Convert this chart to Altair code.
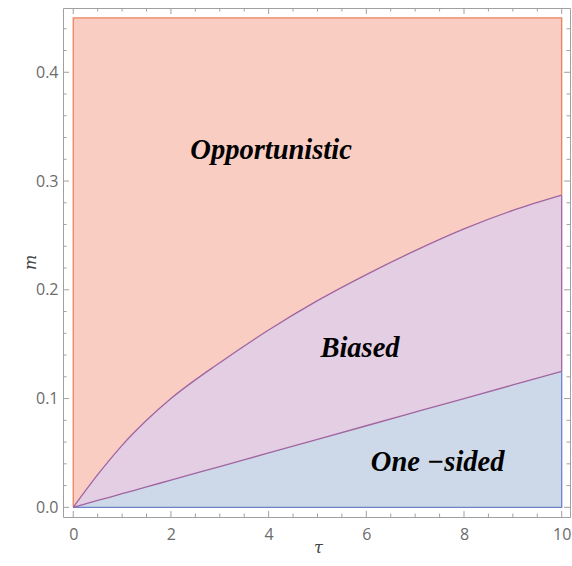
import altair as alt
import pandas as pd

# Region boundaries in the (tau, m) plane
tau = [0, 0.5, 1, 1.5, 2, 3, 4, 5, 6, 7, 8, 9, 10]
m_upper = [0, 0.030, 0.057, 0.080, 0.100, 0.133, 0.163, 0.190, 0.214, 0.236, 0.256, 0.273, 0.287]
m_lower = [0, 0.0063, 0.0125, 0.0188, 0.025, 0.0375, 0.05, 0.0625, 0.075, 0.0875, 0.1, 0.1125, 0.125]
m_top = 0.45

x_major = [0, 2, 4, 6, 8, 10]
y_major = [0.0, 0.1, 0.2, 0.3, 0.4]
x_minor = [v / 2 for v in range(0, 21) if v % 4 != 0]
y_minor = [v / 100 for v in range(0, 46, 2) if v % 10 != 0]

region_names = ["Opportunistic", "Biased", "One −sided"]
label_tau = [4.05, 5.87, 7.46]
label_m = [0.320, 0.1385, 0.0337]

W, H = 507, 509
XDOM = [-0.21, 10.17]
YDOM = [-0.0089, 0.4591]

C_OPP_FILL, C_OPP_EDGE = "#f9cdc2", "#e8835f"
C_BIA_FILL, C_BIA_EDGE = "#e4cee4", "#a064a0"
C_ONE_FILL, C_ONE_EDGE = "#cdd8e8", "#6c82cc"
FRAME = "#a0a0a0"

df = pd.DataFrame({"tau": tau, "up": m_upper, "lo": m_lower,
                   "top": [m_top] * len(tau), "zero": [0.0] * len(tau)})

xs = alt.Scale(domain=XDOM, nice=False, zero=False)
ys = alt.Scale(domain=YDOM, nice=False, zero=False)

label_style = dict(labelFont="Open Sans", labelFontSize=16, labelColor="#6b6b6b",
                   titleFont="DejaVu Serif", titleFontStyle="italic", titleFontWeight="normal",
                   titleFontSize=16, titleColor="#444444", titleBaseline="middle")

x_axis = alt.Axis(values=x_major, format="d", ticks=False, tickSize=0, domain=False,
                  grid=False, labelPadding=9, title="τ", titleX=255, titleY=30,
                  **label_style)
y_axis = alt.Axis(values=y_major, format=".1f", ticks=False, tickSize=0, domain=False,
                  grid=False, labelPadding=5, title="m", titleX=-33, titleY=254,
                  **label_style)

base = alt.Chart(df)


def band(y_field, y2_field, color):
    return base.mark_area(color=color, interpolate="monotone", opacity=1).encode(
        x=alt.X("tau:Q", scale=xs, axis=x_axis),
        y=alt.Y(f"{y_field}:Q", scale=ys, axis=y_axis),
        y2=f"{y2_field}:Q",
    )


def path(points, color):
    d = pd.DataFrame({"tau": [p[0] for p in points], "m": [p[1] for p in points],
                      "k": list(range(len(points)))})
    return alt.Chart(d).mark_line(color=color, strokeWidth=1.3).encode(
        x=alt.X("tau:Q", scale=xs), y=alt.Y("m:Q", scale=ys), order="k:Q")


def curve(field, color):
    return base.mark_line(color=color, strokeWidth=1.3, interpolate="monotone").encode(
        x=alt.X("tau:Q", scale=xs), y=alt.Y(f"{field}:Q", scale=ys))


areas = band("up", "top", C_OPP_FILL) + band("up", "lo", C_BIA_FILL) + band("lo", "zero", C_ONE_FILL)

edges = (
    path([(tau[0], 0), (tau[0], m_top), (tau[-1], m_top), (tau[-1], m_upper[-1])], C_OPP_EDGE)
    + path([(tau[0], 0), (tau[-1], 0), (tau[-1], m_lower[-1])], C_ONE_EDGE)
    + path([(tau[-1], m_lower[-1]), (tau[-1], m_upper[-1])], C_BIA_EDGE)
    + curve("up", C_BIA_EDGE)
    + curve("lo", C_BIA_EDGE)
)

labels = alt.Chart(pd.DataFrame({"t": label_tau, "m": label_m, "name": region_names})).mark_text(
    font="Liberation Serif", fontSize=28.5, fontWeight="bold", fontStyle="italic",
    color="black", align="center", baseline="alphabetic"
).encode(x=alt.X("t:Q", scale=xs), y=alt.Y("m:Q", scale=ys), text="name:N")


def xticks(vals, size):
    d = pd.DataFrame({"v": vals})
    bottom = alt.Chart(d).mark_rule(color=FRAME, strokeWidth=1).encode(
        x=alt.X("v:Q", scale=xs), y=alt.value(H), y2=alt.value(H - size))
    top = alt.Chart(d).mark_rule(color=FRAME, strokeWidth=1).encode(
        x=alt.X("v:Q", scale=xs), y=alt.value(0), y2=alt.value(size))
    return bottom + top


def yticks(vals, size):
    d = pd.DataFrame({"v": vals})
    left = alt.Chart(d).mark_rule(color=FRAME, strokeWidth=1).encode(
        y=alt.Y("v:Q", scale=ys), x=alt.value(0), x2=alt.value(size))
    right = alt.Chart(d).mark_rule(color=FRAME, strokeWidth=1).encode(
        y=alt.Y("v:Q", scale=ys), x=alt.value(W), x2=alt.value(W - size))
    return left + right


ticks = xticks(x_major, 6) + xticks(x_minor, 3.5) + yticks(y_major, 6) + yticks(y_minor, 3.5)

chart = (areas + edges + labels + ticks).properties(
    width=W, height=H,
    background="white",
    autosize=alt.AutoSizeParams(type="none"),
    padding={"left": 63, "top": 8, "right": 2, "bottom": 49},
).configure_view(
    stroke=FRAME, strokeWidth=1
)

chart.save("out.html", embed_options={"renderer": "svg", "actions": False})
